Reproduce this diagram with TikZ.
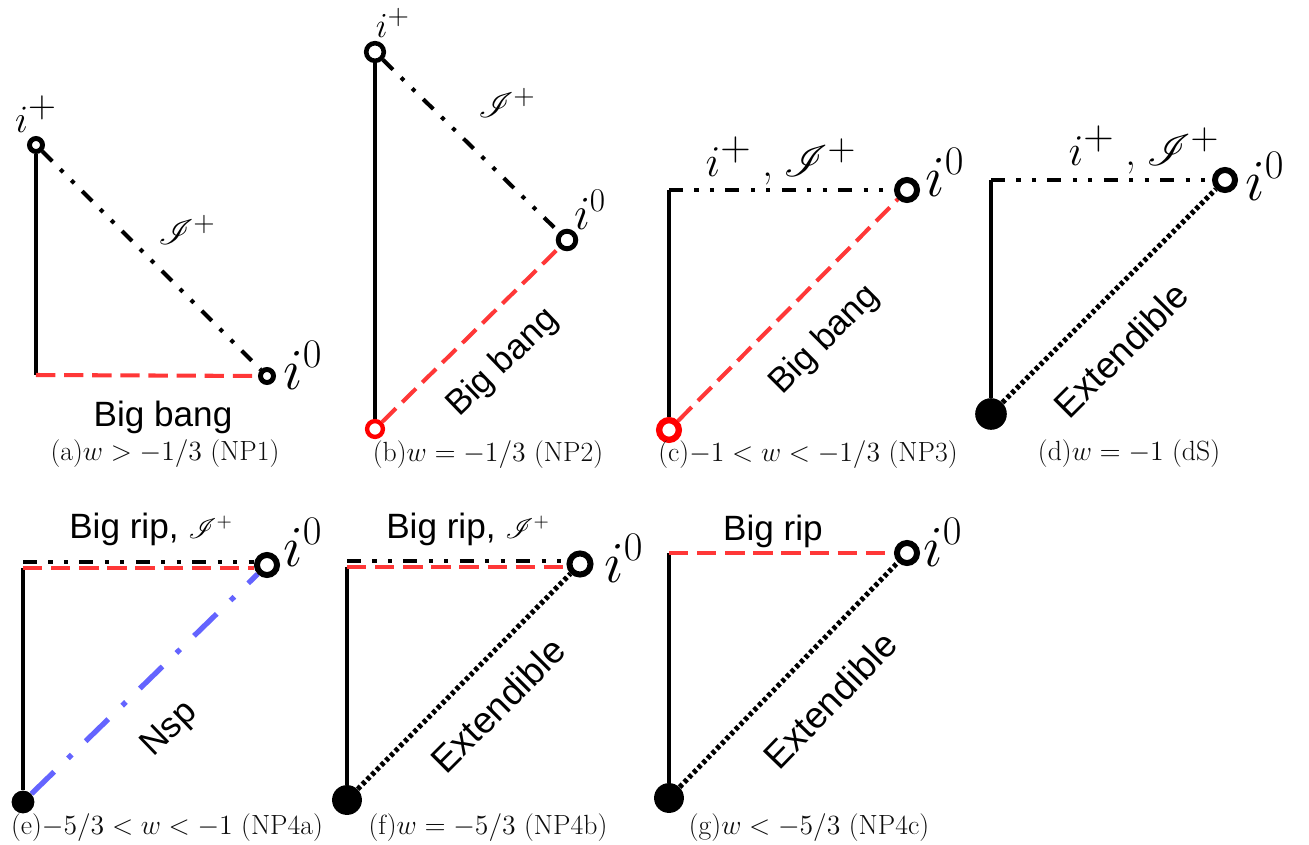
\RequirePackage{fix-cm}
\documentclass[tikz,border=0pt]{standalone}
\usepackage{fontspec}
\usepackage{amsmath,amssymb}
\usepackage{mathrsfs}
\usepackage{xcolor}
\usepackage{tikz}
\usetikzlibrary{positioning, backgrounds}
\newfontfamily\labfont{Liberation Sans}
% scalable script letters
\DeclareFontFamily{U}{rsfs}{\skewchar\font127 }
\DeclareFontShape{U}{rsfs}{m}{n}{<-6>rsfs5 <6-8>rsfs7 <8->rsfs10}{}
\DeclareMathSizes{20}{20}{16}{12}
% large raised plus
\newcommand{\bigplus}[1]{\mbox{\fontsize{#1}{#1}\selectfont$+$}}
\definecolor{bangRed}{RGB}{255, 55, 55}
\definecolor{nspBlue}{RGB}{100, 100, 255}

\begin{document}
\begin{tikzpicture}[
    x=0.02cm, y=-0.02cm,
    wall/.style={line width=2.3pt},
    scri/.style={line width=2.3pt, dash pattern=on 8pt off 6.5pt on 2.3pt off 6.5pt on 2.3pt off 6.5pt},
    bang/.style={bangRed, line width=2.3pt, dash pattern=on 11pt off 5pt},
    extline/.style={line width=2.9pt, dash pattern=on 2.2pt off 1.6pt},
    nsp/.style={nspBlue, line width=3pt, dash pattern=on 18pt off 11pt on 3pt off 11pt},
    hole/.style={circle, draw, fill=white, inner sep=0pt, minimum size=11.4pt, line width=3.4pt},
    redhole/.style={hole, draw=red},
    blob/.style={circle, fill=black, inner sep=0pt, minimum size=17pt},
    lab/.style={font=\labfont\fontsize{20}{24}\selectfont},
    extlab/.style={font=\labfont\fontsize{21}{25}\selectfont},
    capt/.style={font=\fontsize{15.8}{19}\selectfont, text=black!95},
    bigi/.style={font=\fontsize{33}{40}\selectfont, anchor=base},
    midi/.style={font=\fontsize{25}{30}\selectfont, anchor=base},
    smalli/.style={font=\fontsize{20}{24}\selectfont}
]
\useasboundingbox (0,0) rectangle (1309,845);

% (a) NP1
\coordinate (abot) at (36,375);
\node[hole, minimum size=7.4pt, line width=2.8pt] (aplus) at (36,145) {};
\node[hole, minimum size=7.4pt, line width=2.8pt] (azero) at (267,376) {};
\node[smalli, font=\fontsize{22}{26}\selectfont, anchor=base] (aplusl) at (36,132) {$i^{\bigplus{22}}$};
\node[smalli] (ascri) at (187,230) {$\mathscr{I}^+$};
\node[bigi] (azerol) at (303,389) {$i^0$};
\node[lab] (abang) at (163,417) {Big bang};
\node[capt] (acap) at (165,454) {(a)$w>-1/3$ (NP1)};
\begin{scope}[on background layer]
\draw[wall] (aplus) -- (abot);
\draw[scri] (aplus) -- (azero);
\draw[bang] (abot) -- (azero);
\end{scope}

% (b) NP2
\node[hole, minimum size=10pt, line width=2.6pt] (bplus) at (375,52) {};
\node[hole, minimum size=10pt, line width=2.8pt] (bzero) at (567,240) {};
\node[redhole, minimum size=9pt, line width=2.5pt] (bbang) at (375,429) {};
\node[smalli, anchor=base] (bplusl) at (393,37) {$i^+$};
\node[smalli] (bscri) at (507,103) {$\mathscr{I}^+$};
\node[bigi, font=\fontsize{27}{32}\selectfont] (bzerol) at (590,229) {$i^0$};
\node[lab, rotate=44] (bbangl) at (503,363) {Big bang};
\node[capt] (bcap) at (488,455) {(b)$w=-1/3$ (NP2)};
\begin{scope}[on background layer]
\draw[wall] (bplus) -- (bbang);
\draw[scri] (bplus) -- (bzero);
\draw[bang] (bbang) -- (bzero);
\end{scope}

% (c) NP3
\coordinate (ctop) at (669,190);
\node[hole] (czero) at (907,190) {};
\node[redhole, minimum size=11.2pt, line width=3.6pt] (cbang) at (669,430) {};
\node[midi] (cscri) at (781,176) {$i^{\bigplus{24}}$\hspace{6pt},\hspace{6pt}$\mathscr{I}^{\bigplus{22}}$};
\node[bigi] (czerol) at (945,196) {$i^0$};
\node[lab, rotate=45] (cbangl) at (825,340) {Big bang};
\node[capt] (ccap) at (808,455) {(c)$-1<w<-1/3$ (NP3)};
\begin{scope}[on background layer]
\draw[wall] (cbang) -- (ctop);
\draw[scri] (ctop) -- (czero);
\draw[bang] (cbang) -- (czero);
\end{scope}

% (d) dS
\coordinate (dtop) at (991,180);
\node[hole] (dzero) at (1225,180) {};
\node[blob, minimum size=18pt] (dbot) at (991,414) {};
\node[midi] (dscri) at (1144,165) {$i^{\bigplus{24}}$\hspace{6pt},\hspace{6pt}$\mathscr{I}^{\bigplus{22}}$};
\node[bigi] (dzerol) at (1265,200) {$i^0$};
\node[extlab, rotate=45] (dext) at (1121,350) {Extendible};
\node[capt] (dcap) at (1129,454) {(d)$w=-1$ (dS)};
\begin{scope}[on background layer]
\draw[wall] (dbot) -- (dtop);
\draw[scri] (dtop) -- (dzero);
\draw[extline] (dbot) -- (dzero);
\end{scope}

% (e) NP4a
\coordinate (etop) at (23,565);
\node[hole] (ezero) at (267,565) {};
\node[blob, minimum size=13pt] (ebot) at (23,802) {};
\node[lab, anchor=base] (erip) at (151,538) {Big rip, {\fontsize{16}{19}\selectfont$\mathscr{I}^+$}};
\node[bigi] (ezerol) at (303,566) {$i^0$};
\node[lab, rotate=44] (ensp) at (170,730) {Nsp};
\node[capt] (ecap) at (167,828) {(e)$-5/3<w<-1$ (NP4a)};
\begin{scope}[on background layer]
\draw[wall] (ebot) -- ([yshift=-1.7pt]etop);
\draw[scri] ([yshift=1.7pt]etop) -- ([yshift=1.7pt]ezero.west);
\draw[bang] ([yshift=-1.7pt]etop) -- ([yshift=-1.7pt]ezero.west);
\draw[nsp] (ebot) -- (ezero);
\end{scope}

% (f) NP4b
\coordinate (ftop) at (347,564);
\node[hole, minimum size=12pt] (fzero) at (580,564) {};
\node[blob] (fbot) at (347,800) {};
\node[lab, anchor=base] (frip) at (468,538) {Big rip, {\fontsize{16}{19}\selectfont$\mathscr{I}^+$}};
\node[bigi] (fzerol) at (624,582) {$i^0$};
\node[extlab, rotate=45] (fext) at (498,705) {Extendible};
\node[capt] (fcap) at (488,828) {(f)$w=-5/3$ (NP4b)};
\begin{scope}[on background layer]
\draw[wall] (fbot) -- ([yshift=-1.9pt]ftop);
\draw[scri] ([yshift=1.9pt]ftop) -- ([yshift=1.9pt]fzero.west);
\draw[bang] ([yshift=-1.9pt]ftop) -- ([yshift=-1.9pt]fzero.west);
\draw[extline] (fbot) -- (fzero);
\end{scope}

% (g) NP4c
\coordinate (gtop) at (669,553);
\node[hole] (gzero) at (907,553) {};
\node[blob] (gbot) at (669,798) {};
\node[lab] (grip) at (773,531) {Big rip};
\node[bigi] (gzerol) at (943,566) {$i^0$};
\node[extlab, rotate=46] (gext) at (830,700) {Extendible};
\node[capt] (gcap) at (809,828) {(g)$w<-5/3$ (NP4c)};
\begin{scope}[on background layer]
\draw[wall] (gbot) -- (gtop);
\draw[bang] (gtop) -- (gzero);
\draw[extline] (gbot) -- (gzero);
\end{scope}

\end{tikzpicture}
\end{document}
